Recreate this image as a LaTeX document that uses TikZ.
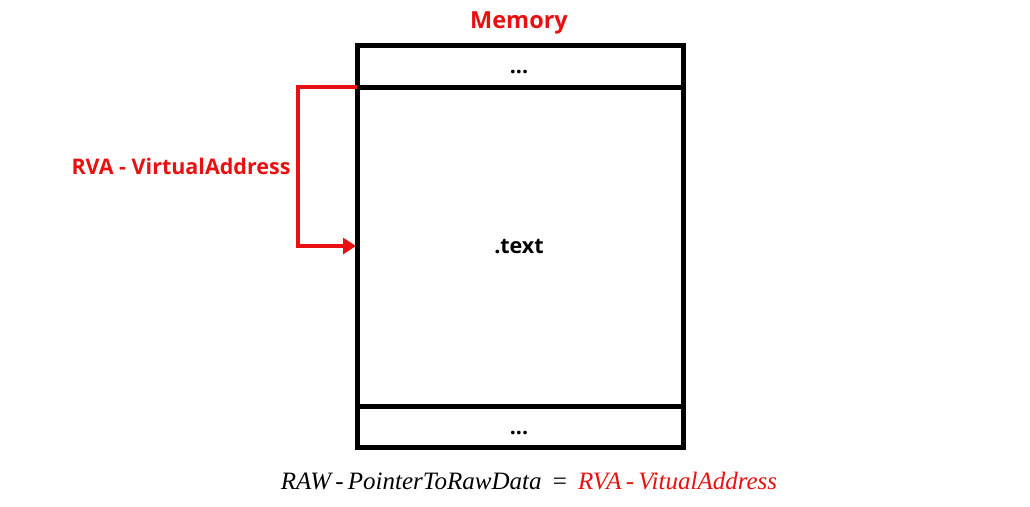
\documentclass[tikz,border=0pt]{standalone}
\usepackage{fontspec}
\setmainfont{Open Sans}
\newfontfamily\formfont{Liberation Serif}
\usetikzlibrary{arrows.meta}
\definecolor{memred}{RGB}{232,16,16}
\tikzset{
  boxline/.style={draw=black, line width=5pt},
  redline/.style={draw=memred, line width=4pt},
  lbl/.style={font=\bfseries\fontsize{21.5}{25}\selectfont, inner sep=0pt},
}
\begin{document}
\begin{tikzpicture}[x=1pt,y=-1pt]
\useasboundingbox (0,0) rectangle (1030,506);
\fill[white] (0,0) rectangle (1030,506);
% memory box
\coordinate (tl) at (357,45);
\coordinate (br) at (683,447);
\draw[boxline] (tl) rectangle (br);
\coordinate (d1l) at (357,87);
\coordinate (d1r) at (683,87);
\coordinate (d2l) at (357,406);
\coordinate (d2r) at (683,406);
\draw[boxline] (d1l) -- (d1r);
\draw[boxline] (d2l) -- (d2r);
\node[lbl, text=memred, font=\bfseries\fontsize{23.5}{27}\selectfont] (mem) at (519,23) {Memory};
\node[lbl] (dots1) at (519,72) {...};
\node[lbl] (text) at (519,247) {.text};
\node[lbl] (dots2) at (519,433) {...};
% red arrow
\coordinate (arrS) at (357,87);
\coordinate (arrE) at (356,246);
\draw[redline, -{Triangle[length=13pt,width=16pt]}] (arrS) -- (298,87) -- (298,246) -- (arrE);
\node[lbl, text=memred] (rva) at (181,166) {RVA - VirtualAddress};
% formula
\node[inner sep=0pt, font=\formfont\itshape\fontsize{25}{28}\selectfont] (form) at (529,481)
  {RAW\,\upshape-\itshape\,PointerToRawData\hspace{0.45em}\upshape=\itshape\hspace{0.45em}\textcolor{memred}{RVA\,\upshape-\itshape\,VitualAddress}};
\end{tikzpicture}
\end{document}
